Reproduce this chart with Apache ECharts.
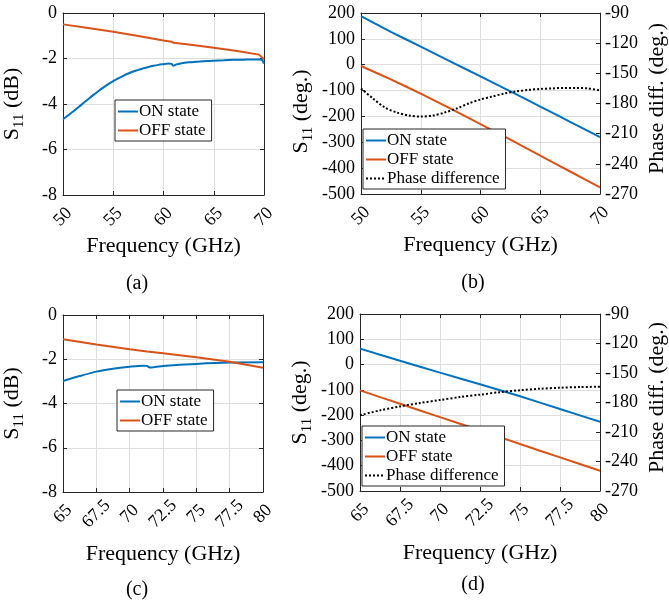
<!DOCTYPE html>
<html><head><meta charset="utf-8">
<script src="https://cdn.jsdelivr.net/npm/echarts@6/dist/echarts.min.js"></script>
<style>html,body{margin:0;padding:0;background:#fff}#c{width:669px;height:605px}</style>
</head><body><div id="c"></div>
<script>
// ---------- Panel (a): S11 magnitude, 50-70 GHz ----------
const aOnFreq  = [50, 50.5, 51, 51.5, 52, 52.5, 53, 53.5, 54, 54.5, 55, 55.5, 56, 56.5, 57, 57.5, 58, 58.5, 59, 59.5, 60, 60.5, 60.8, 61, 61.3, 61.7, 62.5, 63.3, 64, 65, 66, 67, 68, 69, 69.5, 69.8, 70];
const aOnVal   = [-4.67, -4.50, -4.33, -4.15, -3.97, -3.79, -3.61, -3.44, -3.28, -3.13, -2.99, -2.87, -2.76, -2.66, -2.57, -2.50, -2.43, -2.37, -2.32, -2.28, -2.25, -2.22, -2.24, -2.32, -2.26, -2.22, -2.17, -2.14, -2.12, -2.10, -2.08, -2.06, -2.05, -2.04, -2.04, -2.06, -2.22];
const aOffFreq = [50, 52.5, 55, 57.5, 60, 60.8, 61, 62.5, 65, 67.5, 69.5, 70];
const aOffVal  = [-0.50, -0.66, -0.82, -1.01, -1.21, -1.26, -1.31, -1.38, -1.53, -1.68, -1.83, -2.03];

// ---------- Panel (b): S11 phase, 50-70 GHz ----------
const bFreq     = [50, 52.5, 55, 57.5, 60, 62.5, 65, 67.5, 70];
const bOnVal    = [188, 127, 70, 12, -45, -103, -162, -221, -280];
const bOffVal   = [-5, -57, -112, -170, -230, -290, -352, -413, -474];
const bDiffFreq = [50, 51, 52, 53, 54, 55, 56, 57, 58, 59, 60, 61, 62, 63, 64, 65, 66, 67, 68, 69, 70];
const bDiffVal  = [-165, -175, -184, -189, -192, -193, -192, -189, -185, -180, -176, -173, -170, -168, -166.5, -165.5, -165, -164.5, -164.5, -165, -167];

// ---------- Panel (c): S11 magnitude, 65-80 GHz ----------
const cOnFreq  = [65, 66.25, 67.5, 68.75, 70, 71, 71.3, 71.5, 72, 72.5, 75, 77.5, 80];
const cOnVal   = [-2.98, -2.76, -2.56, -2.43, -2.34, -2.29, -2.30, -2.37, -2.34, -2.30, -2.21, -2.15, -2.14];
const cOffFreq = [65, 67.5, 70, 71.3, 72.5, 75, 77.5, 80];
const cOffVal  = [-1.10, -1.33, -1.55, -1.65, -1.73, -1.91, -2.11, -2.38];

// ---------- Panel (d): S11 phase, 65-80 GHz ----------
const dFreq     = [65, 67.5, 70, 72.5, 75, 77.5, 80];
const dOnVal    = [63, 15, -32, -78, -125, -176, -226];
const dOffVal   = [-102, -155, -208, -260, -314, -367, -420];
const dDiffFreq = [65, 66.25, 67.5, 68.75, 70, 71.25, 72.5, 73.75, 75, 76.25, 77.5, 78.75, 80];
const dDiffVal  = [-193, -188, -184, -180.5, -177.5, -174.5, -172, -169.5, -167.5, -166, -165, -164.3, -164];

// ---------- Text ----------
const seriesNames = ['ON state', 'OFF state', 'Phase difference'];
const xTitle = 'Frequency (GHz)';
const yTitleDb = '{s|S}{sub|11}{s| (dB)}';
const yTitleDeg = '{s|S}{sub|11}{s| (deg.)}';
const yTitleRight = 'Phase diff. (deg.)';
const captions = ['(a)', '(b)', '(c)', '(d)'];

const FONT = 'Liberation Serif';
const BLUE = '#0072BD', ORANGE = '#D95319';
const AX = '#262626', GRIDC = '#dedede';
const ICON_SOLID = 'path://M0,0h20v2h-20z';
const ICON_DOT = 'path://M0,0h2v2h-2z M4,0h2v2h-2z M8,0h2v2h-2z M12,0h2v2h-2z M16,0h2v2h-2z M20,0h0v2h0z';

const pair = (xs, ys) => xs.map((x, i) => [x, ys[i]]);

const panels = [
  {grid:{left:63, top:13, width:201, height:182}, xmin:50, xmax:70, xint:5, ymin:-8, ymax:0, yint:2, yname:yTitleDb, ygap:36, ypad:[0,0,0,0], xgap:40, phase:false,
   legend:{left:115, top:100}},
  {grid:{left:361, top:13, width:239, height:181}, xmin:50, xmax:70, xint:5, ymin:-500, ymax:200, yint:100, yname:yTitleDeg, ygap:45, ypad:[0,16,0,0], xgap:40, phase:true,
   legend:{left:363, top:129}},
  {grid:{left:62, top:315, width:201, height:177}, xmin:65, xmax:80, xint:2.5, ymin:-8, ymax:0, yint:2, yname:yTitleDb, ygap:36, ypad:[0,0,0,0], xgap:51, phase:false,
   legend:{left:117, top:390}},
  {grid:{left:360, top:314, width:241, height:177}, xmin:65, xmax:80, xint:2.5, ymin:-500, ymax:200, yint:100, yname:yTitleDeg, ygap:45, ypad:[0,0,0,0], xgap:51, phase:true,
   legend:{left:362, top:426}}
];

const grids = [], xAxes = [], yAxes = [], series = [], legends = [];
const rich = {s:{fontFamily:FONT, fontSize:22, color:'#000', padding:[0,0,4,0], verticalAlign:'bottom'},
              sub:{fontFamily:FONT, fontSize:15, color:'#000', verticalAlign:'bottom'}};
const tickLbl = {fontFamily:FONT, fontSize:18, color:'#000'};

panels.forEach((p, i) => {
  grids.push(Object.assign({containLabel:false}, p.grid));
  xAxes.push({gridIndex:i, type:'value', position:'bottom', min:p.xmin, max:p.xmax, interval:p.xint,
    axisLine:{show:true, onZero:false, lineStyle:{color:AX, width:1}},
    axisTick:{show:true, inside:true, length:4, lineStyle:{color:AX}},
    splitLine:{show:true, lineStyle:{color:GRIDC, width:1}},
    axisLabel:Object.assign({rotate:45, margin:22, align:'center', verticalAlign:'middle',
      formatter: v => String(v), hideOverlap:false, showMinLabel:true, showMaxLabel:true}, tickLbl),
    name:xTitle, nameLocation:'middle', nameGap:p.xgap,
    nameTextStyle:{fontFamily:FONT, fontSize:22, color:'#000'}});
  xAxes.push({gridIndex:i, type:'value', position:'top', min:p.xmin, max:p.xmax, interval:p.xint,
    axisLine:{show:true, onZero:false, lineStyle:{color:AX, width:1}},
    axisTick:{show:true, inside:true, length:4, lineStyle:{color:AX}},
    splitLine:{show:false}, axisLabel:{show:false}});
  yAxes.push({gridIndex:i, type:'value', position:'left', min:p.ymin, max:p.ymax, interval:p.yint,
    axisLine:{show:true, onZero:false, lineStyle:{color:AX, width:1}},
    axisTick:{show:true, inside:true, length:4, lineStyle:{color:AX}},
    splitLine:{show:true, lineStyle:{color:GRIDC, width:1}},
    axisLabel:Object.assign({margin:6, showMinLabel:true, showMaxLabel:true}, tickLbl),
    name:p.yname, nameLocation:'middle', nameGap:p.ygap, nameRotate:90,
    nameTextStyle:{rich:rich, padding:p.ypad}});
  if (p.phase) {
    yAxes.push({gridIndex:i, type:'value', position:'right', min:-270, max:-90, interval:30,
      axisLine:{show:true, onZero:false, lineStyle:{color:AX, width:1}},
      axisTick:{show:true, inside:true, length:4, lineStyle:{color:AX}},
      splitLine:{show:false},
      axisLabel:Object.assign({margin:5, showMinLabel:true, showMaxLabel:true}, tickLbl),
      name:yTitleRight, nameLocation:'middle', nameGap:46, nameRotate:90,
      nameTextStyle:{fontFamily:FONT, fontSize:22, color:'#000', padding:[0,0,0,10]}});
  } else {
    yAxes.push({gridIndex:i, type:'value', position:'right', min:p.ymin, max:p.ymax, interval:p.yint,
      axisLine:{show:true, onZero:false, lineStyle:{color:AX, width:1}},
      axisTick:{show:true, inside:true, length:4, lineStyle:{color:AX}},
      splitLine:{show:false}, axisLabel:{show:false}});
  }
  const names = p.phase ? seriesNames : seriesNames.slice(0, 2);
  legends.push({left:p.legend.left, top:p.legend.top, orient:'vertical',
    data: names.map(n => ({name:n, icon: n === 'Phase difference' ? ICON_DOT : ICON_SOLID})),
    backgroundColor:'#fff', borderColor:AX, borderWidth:1, borderRadius:0,
    padding:[3,6,2,3], itemGap:2, itemWidth:20, itemHeight:2, selectedMode:false,
    itemStyle:{borderWidth:0},
    textStyle:{fontFamily:FONT, fontSize:17, color:'#000', padding:[0,0,0,-4], lineHeight:17}});
});

function line(name, xi, yi, data, color, type, smooth, z) {
  return {name, type:'line', xAxisIndex:xi, yAxisIndex:yi, data, symbol:'none', smooth,
    lineStyle:{color, width:2, type}, itemStyle:{color}, z:z||2, animation:false, silent:true};
}
series.push(line('ON state', 0, 0, pair(aOnFreq, aOnVal), BLUE, 'solid', 0.2));
series.push(line('OFF state', 0, 0, pair(aOffFreq, aOffVal), ORANGE, 'solid', false));
series.push(line('ON state', 2, 2, pair(bFreq, bOnVal), BLUE, 'solid', 0.2));
series.push(line('OFF state', 2, 2, pair(bFreq, bOffVal), ORANGE, 'solid', 0.2));
series.push(line('Phase difference', 2, 3, pair(bDiffFreq, bDiffVal), '#000', [2,2], 0.3, 3));
series.push(line('ON state', 4, 4, pair(cOnFreq, cOnVal), BLUE, 'solid', 0.25));
series.push(line('OFF state', 4, 4, pair(cOffFreq, cOffVal), ORANGE, 'solid', false));
series.push(line('ON state', 6, 6, pair(dFreq, dOnVal), BLUE, 'solid', 0.2));
series.push(line('OFF state', 6, 6, pair(dFreq, dOffVal), ORANGE, 'solid', 0.2));
series.push(line('Phase difference', 6, 7, pair(dDiffFreq, dDiffVal), '#000', [2,2], 0.3, 3));

const capPos = [[137, 284], [473, 283], [137, 590], [473, 585]];
const graphic = captions.map((t, i) => ({type:'text', x:capPos[i][0], y:capPos[i][1],
  style:{text:t, fontFamily:FONT, fontSize:20, fill:'#000', align:'center', verticalAlign:'middle'}}));

const chart = echarts.init(document.getElementById('c'), null, {renderer:'canvas'});
chart.setOption({animation:false, backgroundColor:'#fff', grid:grids, xAxis:xAxes, yAxis:yAxes,
  series, legend:legends, graphic});
</script></body></html>
